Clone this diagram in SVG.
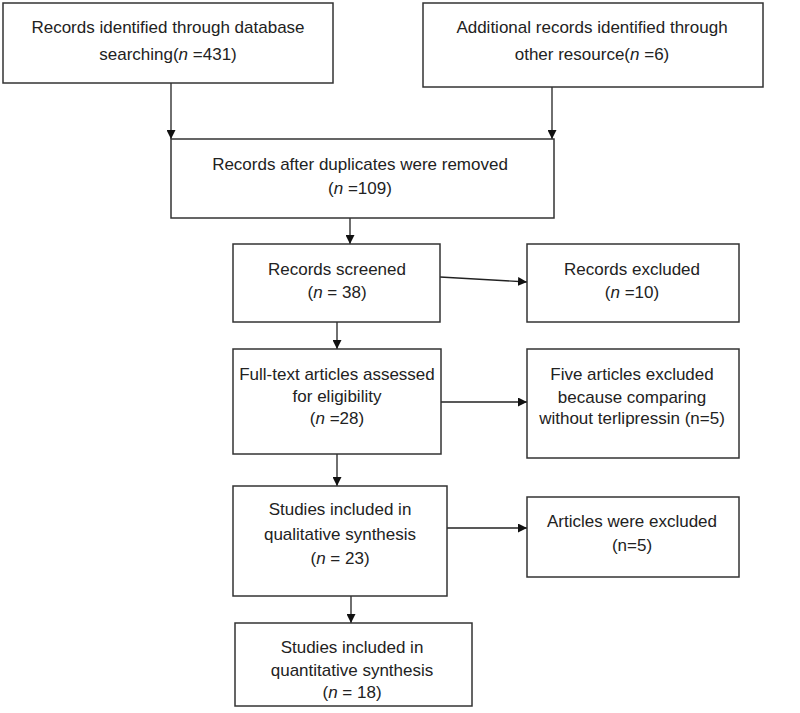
<svg xmlns="http://www.w3.org/2000/svg" width="800" height="713" viewBox="0 0 800 713">
<style>
.box{fill:#fff;stroke:#333;stroke-width:1.5}
.t{font-family:"Liberation Sans",Arial,sans-serif;font-size:17px;fill:#222;text-anchor:middle}
.c{stroke:#222;stroke-width:1.3;fill:none;marker-end:url(#ah)}
</style>
<defs>
<marker id="ah" viewBox="0 0 10 10" refX="10" refY="5" markerWidth="9" markerHeight="9" markerUnits="userSpaceOnUse" orient="auto">
<path d="M0,0 L10,5 L0,10 z" fill="#111"/>
</marker>
</defs>
<rect width="800" height="713" fill="#fff"/>
<g id="connectors">
<line class="c" x1="171" y1="83" x2="171" y2="139"/>
<line class="c" x1="552" y1="87" x2="552" y2="139"/>
<line class="c" x1="350" y1="218" x2="350" y2="244"/>
<line class="c" x1="440" y1="277" x2="527" y2="282"/>
<line class="c" x1="337" y1="322" x2="337" y2="349"/>
<line class="c" x1="441" y1="402" x2="527" y2="402"/>
<line class="c" x1="337" y1="454" x2="337" y2="486"/>
<line class="c" x1="447" y1="528" x2="527" y2="528"/>
<line class="c" x1="351" y1="596" x2="351" y2="623"/>
</g>
<g id="n1"><rect class="box" x="3" y="3" width="330" height="80"/>
<text class="t" x="168" y="33">Records identified through database</text>
<text class="t" x="168" y="60">searching(<tspan font-style="italic">n</tspan> =431)</text></g>
<g id="n2"><rect class="box" x="423" y="3" width="340" height="84"/>
<text class="t" x="592" y="33">Additional records identified through</text>
<text class="t" x="592" y="60">other resource(<tspan font-style="italic">n</tspan> =6)</text></g>
<g id="n3"><rect class="box" x="171" y="139" width="383" height="79"/>
<text class="t" x="360" y="170">Records after duplicates were removed</text>
<text class="t" x="360" y="194">(<tspan font-style="italic">n</tspan> =109)</text></g>
<g id="n4"><rect class="box" x="233" y="244" width="207" height="78"/>
<text class="t" x="337" y="275">Records screened</text>
<text class="t" x="337" y="298">(<tspan font-style="italic">n</tspan> = 38)</text></g>
<g id="n5"><rect class="box" x="527" y="244" width="212" height="78"/>
<text class="t" x="632" y="275">Records excluded</text>
<text class="t" x="632" y="298">(<tspan font-style="italic">n</tspan> =10)</text></g>
<g id="n6"><rect class="box" x="233" y="349" width="208" height="105"/>
<text class="t" x="337" y="380">Full-text articles assessed</text>
<text class="t" x="337" y="402">for eligibility</text>
<text class="t" x="337" y="424">(<tspan font-style="italic">n</tspan> =28)</text></g>
<g id="n7"><rect class="box" x="527" y="349" width="212" height="109"/>
<text class="t" x="632" y="380">Five articles excluded</text>
<text class="t" x="632" y="403">because comparing</text>
<text class="t" x="632" y="424">without terlipressin (n=5)</text></g>
<g id="n8"><rect class="box" x="233" y="486" width="214" height="110"/>
<text class="t" x="340" y="515">Studies included in</text>
<text class="t" x="340" y="540">qualitative synthesis</text>
<text class="t" x="340" y="564">(<tspan font-style="italic">n</tspan> = 23)</text></g>
<g id="n9"><rect class="box" x="527" y="497" width="212" height="80"/>
<text class="t" x="632" y="527">Articles were excluded</text>
<text class="t" x="632" y="551">(n=5)</text></g>
<g id="n10"><rect class="box" x="235" y="623" width="237" height="83"/>
<text class="t" x="352" y="653">Studies included in</text>
<text class="t" x="352" y="676">quantitative synthesis</text>
<text class="t" x="352" y="698">(<tspan font-style="italic">n</tspan> = 18)</text></g>
</svg>
